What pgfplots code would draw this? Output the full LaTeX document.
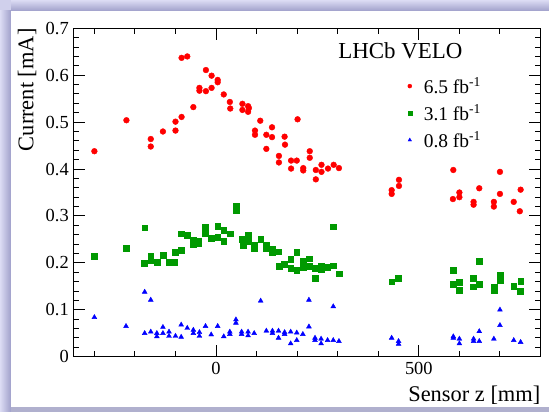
\documentclass[border=0pt]{standalone}
\usepackage{fontspec}
\setmainfont{Liberation Serif}
\usepackage{pgfplots}
\pgfplotsset{compat=1.18}
\usepackage{pgfplotstable}

\definecolor{framebg}{RGB}{208,208,236}
\definecolor{framelight}{RGB}{220,220,244}
\definecolor{framedark}{RGB}{160,160,202}
\definecolor{framebottom}{RGB}{176,176,206}
\definecolor{rootred}{RGB}{255,0,0}
\definecolor{rootgreen}{RGB}{0,153,0}
\definecolor{rootblue}{RGB}{0,0,255}

% Sensor currents versus sensor z position, for three integrated luminosities
\pgfplotstableread{
z     I
-300  0.438
-221  0.504
-161  0.464
-161  0.448
-131  0.480
-100  0.501
-100  0.482
-85   0.511
-85   0.637
-71   0.640
-56   0.532
-41   0.573
-41   0.567
-25   0.611
-25   0.566
-11   0.599
-11   0.573
4     0.590
4     0.585
19    0.559
34    0.543
35    0.529
65    0.539
65    0.526
79    0.534
79    0.522
81    0.530
96    0.482
96    0.473
109   0.503
124   0.473
124   0.443
138   0.489
138   0.468
155   0.428
155   0.414
169   0.469
170   0.452
185   0.418
185   0.401
199   0.418
201   0.506
215   0.402
215   0.397
231   0.438
231   0.424
246   0.398
246   0.378
260   0.409
260   0.394
276   0.401
290   0.409
303   0.402
433   0.355
433   0.347
451   0.377
451   0.364
585   0.398
584   0.336
600   0.350
600   0.340
635   0.330
635   0.324
649   0.359
685   0.330
685   0.320
700   0.394
700   0.347
734   0.330
751   0.356
749   0.310
}\lumihigh

\pgfplotstableread{
z     I
-301  0.215
-222  0.232
-176  0.275
-177  0.199
-161  0.214
-161  0.205
-146  0.202
-131  0.217
-117  0.201
-102  0.201
-100  0.223
-86   0.227
-86   0.262
-71   0.259
-56   0.249
-56   0.239
-43   0.247
-43   0.241
-26   0.277
-26   0.263
-12   0.253
4     0.278
4     0.255
19    0.269
19    0.247
34    0.262
49    0.320
49    0.312
63    0.251
67    0.237
79    0.260
79    0.246
94    0.237
94    0.232
110   0.250
123   0.237
123   0.230
138   0.230
138   0.223
154   0.224
155   0.193
169   0.198
184   0.208
184   0.188
199   0.222
199   0.185
214   0.203
214   0.191
229   0.209
230   0.193
244   0.188
244   0.168
259   0.194
259   0.186
275   0.191
289   0.277
289   0.194
303   0.177
433   0.160
450   0.167
584   0.185
584   0.154
600   0.159
600   0.142
635   0.168
635   0.149
649   0.204
649   0.154
685   0.149
685   0.141
700   0.174
700   0.163
734   0.150
751   0.161
749   0.140
}\lumimid

\pgfplotstableread{
z     I
-300  0.084
-222  0.065
-176  0.138
-161  0.121
-176  0.050
-161  0.053
-146  0.050
-146  0.043
-131  0.063
-131  0.050
-116  0.053
-116  0.044
-100  0.044
-86   0.068
-86   0.042
-71   0.061
-56   0.057
-56   0.050
-41   0.052
-41   0.044
-26   0.065
-12   0.047
4     0.065
19    0.043
34    0.053
34    0.048
49    0.079
49    0.072
63    0.053
63    0.048
79    0.053
79    0.045
94    0.050
110   0.119
124   0.055
139   0.055
139   0.050
154   0.055
154   0.040
169   0.052
169   0.048
184   0.053
184   0.028
199   0.051
199   0.035
214   0.048
229   0.121
229   0.064
244   0.040
244   0.035
259   0.038
259   0.028
275   0.035
289   0.107
289   0.035
303   0.033
433   0.040
450   0.033
450   0.027
585   0.043
585   0.040
600   0.038
600   0.028
635   0.038
635   0.033
649   0.054
649   0.033
685   0.038
700   0.100
700   0.067
734   0.035
751   0.031
}\lumilow

\begin{document}
\begin{tikzpicture}
  % canvas frame with bevel shadow
  \fill[framebg] (0bp,0bp) rectangle (549bp,412bp);
  \shade[left color=framelight, right color=framedark] (0bp,0bp) rectangle (11bp,401bp);
  \shade[top color=framelight, bottom color=framedark] (11bp,401bp) rectangle (549bp,412bp);
  \fill[framebottom] (11bp,0bp) rectangle (549bp,5bp);
  \fill[white] (11bp,5bp) rectangle (549bp,401bp);

  \begin{axis}[
    at={(73.3bp,55.3bp)}, anchor=south west,
    scale only axis, width=467.2bp, height=328.4bp,
    xmin=-352, xmax=800, ymin=0, ymax=0.7,
    xtick={0,500}, xticklabels={0,500},
    minor xtick={-300,-200,-100,100,200,300,400,600,700},
    ytick={0,0.1,0.2,0.3,0.4,0.5,0.6,0.7},
    yticklabels={0,0.1,0.2,0.3,0.4,0.5,0.6,0.7},
    minor y tick num=4,
    tick align=inside,
    major tick length=12bp, minor tick length=6bp,
    every tick/.style={black, line width=1bp},
    axis line style={line width=1.2bp},
    tick label style={font=\fontsize{18.5}{20}\selectfont},
    yticklabel style={xshift=-1bp},
    xticklabel style={yshift=-2bp},
    label style={font=\fontsize{22.5}{26}\selectfont},
    xlabel={Sensor z [mm]},
    xlabel style={at={(axis description cs:1,-0.137)}, anchor=base east, inner sep=0pt},
    ylabel={Current [mA]},
    ylabel style={at={(axis description cs:-0.099,1)}, anchor=east, inner sep=0pt},
    only marks,
    legend image code/.code={%
      \path[draw=none, fill=none] (0bp,-0.5bp) rectangle (19bp,0.5bp);
      \draw[#1, only marks] plot coordinates {(6bp,0bp)};},
    legend cell align=left,
    legend style={draw=none, fill=none, at={(axis description cs:0.707,0.855)},
      anchor=north west, inner sep=0pt, row sep=7bp,
      font=\fontsize{19.5}{22}\selectfont,
      nodes={inner sep=1bp}},
    clip=false,
  ]
    \addplot[mark=*, mark size=2.9bp, color=rootred,
      every legend image post/.append style={mark size=2bp}] table[x=z, y=I] {\lumihigh};
    \addlegendentry{6.5 fb\textsuperscript{-1}}
    \addplot[mark=square*, mark size=2.9bp, color=rootgreen,
      every legend image post/.append style={mark size=2bp}] table[x=z, y=I] {\lumimid};
    \addlegendentry{3.1 fb\textsuperscript{-1}}
    \addplot[mark=triangle*, mark size=2.8bp, color=rootblue,
      every legend image post/.append style={mark size=2bp}] table[x=z, y=I] {\lumilow};
    \addlegendentry{0.8 fb\textsuperscript{-1}}

    \node[anchor=base west, inner sep=0pt, font=\fontsize{23}{27}\selectfont]
      at (rel axis cs:0.567,0.909) {LHCb VELO};
  \end{axis}
  \pgfresetboundingbox
  \path[use as bounding box] (0bp,0bp) rectangle (549bp,412bp);
\end{tikzpicture}
\end{document}
